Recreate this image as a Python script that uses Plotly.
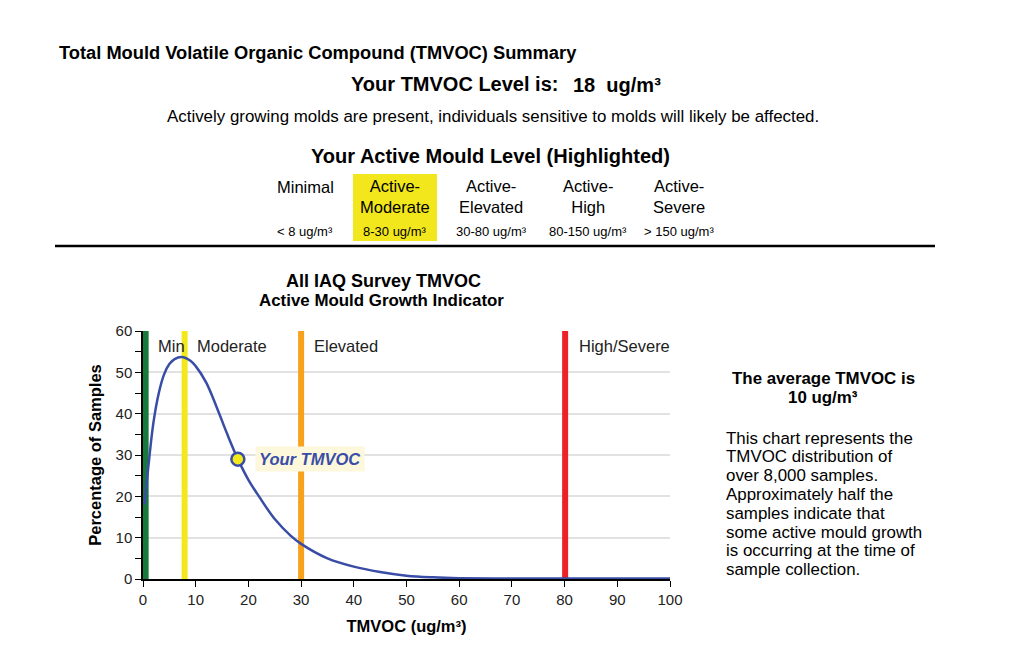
import plotly.graph_objects as go

# page body adds an 8px margin, so the figure is drawn 8px smaller
OFF = 8
W, H = 1024 - OFF, 663 - OFF

# distribution curve
tmvoc = [0.3, 1, 2, 3, 4, 5, 6, 7.3, 9, 10, 12, 14, 16, 18, 20, 22, 25, 28, 30,
         35, 40, 45, 50, 55, 60, 70, 80, 90, 100]
pct = [18, 27, 38, 45, 49.5, 52, 53.2, 53.7, 52.8, 51.5, 47.5, 41.5, 35, 29, 24,
       20, 14.5, 10.5, 8.5, 5, 3, 1.7, 0.8, 0.4, 0.2, 0.1, 0.1, 0.1, 0.1]

your_level = 18
your_pct = 29
avg_level = 10

band_pos = [0.5, 7.9, 30, 80.1]
band_colors = ["#177a3c", "#f3e81c", "#f8a11c", "#ec2228"]
region_labels = ["Min", "Moderate", "Elevated", "High/Severe"]
region_x = [2.5, 9.8, 32, 82.3]

levels = ["Minimal", "Active-<br>Moderate", "Active-<br>Elevated", "Active-<br>High", "Active-<br>Severe"]
ranges = ["< 8 ug/m³", "8-30 ug/m³", "30-80 ug/m³", "80-150 ug/m³", "> 150 ug/m³"]
highlight = 1

FONT = "Liberation Sans, Arial, sans-serif"
BLUE = "#3a4da6"


def px(x):
    return (x - OFF) / W


def py(y):
    return 1 - (y - OFF) / H


fig = go.Figure()
fig.add_trace(go.Scatter(x=tmvoc, y=pct, mode="lines", line=dict(color=BLUE, width=2.5, shape="spline"),
                         hoverinfo="skip", showlegend=False))
fig.add_trace(go.Scatter(x=[your_level], y=[your_pct], mode="markers",
                         marker=dict(size=13, color="#f3e81c", line=dict(color=BLUE, width=2.5)),
                         showlegend=False))

shapes = []
for pos, col in zip(band_pos, band_colors):
    shapes.append(dict(type="line", xref="x", yref="y", x0=pos, x1=pos, y0=0, y1=60,
                       line=dict(color=col, width=6), layer="between"))

# highlight box behind the selected level
col_x = [305, 395, 491, 588, 679]
hx = col_x[highlight]
shapes.append(dict(type="rect", xref="paper", yref="paper", x0=px(hx - 42), x1=px(hx + 42),
                   y0=py(241), y1=py(174), fillcolor="#f2e71d", line=dict(width=0), layer="below"))
# separator line
shapes.append(dict(type="line", xref="paper", yref="paper", x0=px(55), x1=px(935),
                   y0=py(246), y1=py(246), line=dict(color="black", width=2.5)))

ann = []


def txt(text, x, y, size, bold=False, anchor="center", color="black", **kw):
    if bold:
        text = "<b>" + text + "</b>"
    ann.append(dict(text=text, x=px(x), y=py(y), xref="paper", yref="paper", showarrow=False,
                    xanchor=anchor, yanchor="middle", font=dict(size=size, color=color, family=FONT), **kw))


txt("Total Mould Volatile Organic Compound (TMVOC) Summary", 57, 52, 18.3, True, "left")
txt("Your TMVOC Level is:", 560, 84, 20, True, "right")
txt(f"{your_level}  ug/m³", 571, 85, 20, True, "left")
txt("Actively growing molds are present, individuals sensitive to molds will likely be affected.",
    493, 117, 16.9)
txt("Your Active Mould Level (Highlighted)", 490, 156, 20, True)
for i, (lv, rg) in enumerate(zip(levels, ranges)):
    y = 187 if i == 0 else 196
    txt(lv, col_x[i], y, 16.5)
    txt(rg, col_x[i], 231, 13)

txt("All IAQ Survey TMVOC", 383, 281, 18, True)
txt("Active Mould Growth Indicator", 381, 300, 16.9, True)

for lab, x in zip(region_labels, region_x):
    ann.append(dict(text=lab, x=x, y=56.3, xref="x", yref="y", showarrow=False, xanchor="left",
                    yanchor="middle", font=dict(size=16.5, color="#222", family=FONT)))

ann.append(dict(text="<b><i>Your TMVOC</i></b>", x=21.3, y=29, xref="x", yref="y", showarrow=False,
                xanchor="left", yanchor="middle", bgcolor="#fdf8dc", borderpad=3,
                font=dict(size=16.5, color=BLUE, family=FONT)))

txt("The average TMVOC is", 823, 378, 16.9, True)
txt(f"{avg_level} ug/m³", 823, 397, 16.9, True)
para = ["This chart represents the", "TMVOC distribution of", "over 8,000 samples.",
        "Approximately half the", "samples indicate that", "some active mould growth",
        "is occurring at the time of", "sample collection."]
for i, line in enumerate(para):
    txt(line, 724, 438 + i * 18.8, 16.9, False, "left")

fig.update_layout(
    width=W, height=H, margin=dict(l=0, r=0, t=0, b=0),
    paper_bgcolor="white", plot_bgcolor="white",
    font=dict(family=FONT, color="black"),
    shapes=shapes, annotations=ann,
    xaxis=dict(domain=[px(143), px(670)], range=[0, 100], tick0=0, dtick=10, automargin=False,
               showline=True, linecolor="black", linewidth=1.5, ticks="outside", ticklen=6,
               tickcolor="black", showgrid=False, zeroline=False,
               tickfont=dict(size=15, color="#222"),
               title=dict(text="<b>TMVOC (ug/m³)</b>", font=dict(size=16.5), standoff=14)),
    yaxis=dict(domain=[py(579), py(331)], range=[0, 60], tick0=0, dtick=10, automargin=False,
               showline=True, linecolor="black", linewidth=1.5, ticks="outside", ticklen=6,
               tickcolor="black", showgrid=True, gridcolor="#e2e2e2", gridwidth=1.5, zeroline=False,
               minor=dict(dtick=5, ticks="outside", ticklen=6, tickcolor="black", showgrid=False),
               tickfont=dict(size=15, color="#222"),
               title=dict(text="<b>Percentage of Samples</b>", font=dict(size=16.5), standoff=10)),
)

fig.write_html("out.html")
